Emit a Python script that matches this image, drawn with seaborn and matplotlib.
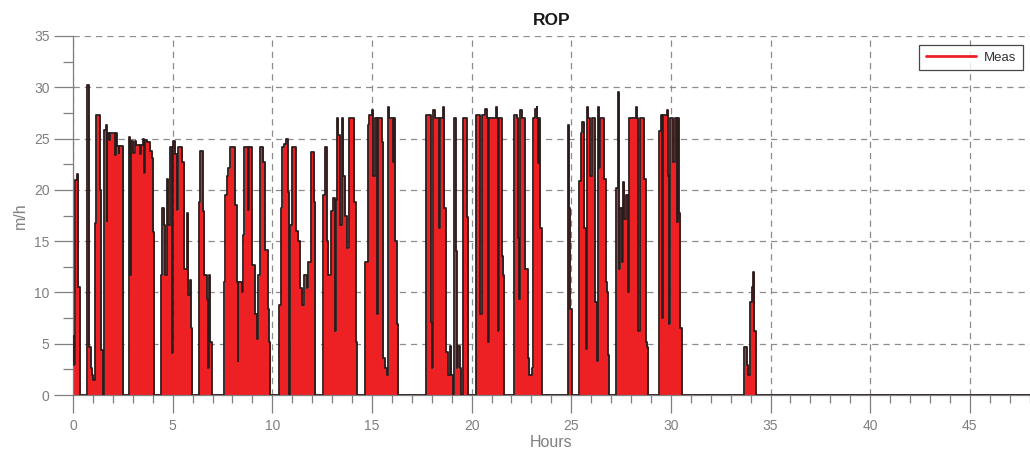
import numpy as np
import pandas as pd
import matplotlib
matplotlib.use("Agg")
import matplotlib.pyplot as plt
from matplotlib.lines import Line2D
from matplotlib.ticker import MultipleLocator
import seaborn as sns

# ROP step signal: (hour where a step starts, value in m/h)
hours = [
    0.00, 0.03, 0.12, 0.20, 0.27, 0.35,
    0.72, 0.78, 0.80, 0.88, 0.96, 1.02,
    1.08, 1.15, 1.35, 1.40, 1.50,
    1.56, 1.64, 1.69, 1.72, 1.80, 1.86, 2.11, 2.14, 2.19, 2.30, 2.33, 2.53,
    2.83, 2.86, 2.89, 3.03, 3.11, 3.18, 3.36, 3.40, 3.53, 3.56, 3.61, 3.70, 3.86, 3.98, 4.03, 4.08,
    4.42, 4.48, 4.57, 4.62, 4.70, 4.78, 4.87, 4.95, 4.98, 5.03, 5.12, 5.20, 5.29, 5.49, 5.59, 5.70,
    5.79, 5.87, 5.92, 5.99,
    6.32, 6.37, 6.51, 6.59, 6.71, 6.76, 6.82, 6.87, 6.96,
    7.60, 7.65, 7.72, 7.79, 7.88, 8.13, 8.21, 8.26, 8.30, 8.46, 8.55, 8.60, 8.80, 8.84, 8.96, 9.13,
    9.22, 9.30, 9.38, 9.55, 9.63, 9.77, 9.82, 9.90,
    10.34, 10.43, 10.50, 10.60, 10.69, 10.77, 10.84, 10.89, 10.97, 11.17, 11.31, 11.39, 11.51, 11.61,
    11.72, 11.81, 11.94, 12.11, 12.16,
    12.56, 12.64, 12.73, 12.81, 12.94, 13.06, 13.15, 13.20, 13.23, 13.31, 13.40, 13.48, 13.56, 13.65,
    13.73, 13.85, 14.12, 14.18, 14.23,
    14.65, 14.79, 14.87, 14.99, 15.07, 15.15, 15.24, 15.29, 15.49, 15.57, 15.65, 15.74, 15.82, 15.86,
    16.07, 16.10, 16.16, 16.24, 16.32,
    17.70, 17.95, 18.00, 18.08, 18.16, 18.38, 18.43, 18.58, 18.63, 18.71, 18.80, 18.91, 18.99, 19.08,
    19.13, 19.20, 19.25, 19.34, 19.40, 19.47, 19.55, 19.75, 19.84,
    20.20, 20.42, 20.50, 20.67, 20.76, 20.84, 20.89, 21.22, 21.27, 21.34, 21.39, 21.51, 21.59, 21.64,
    22.13, 22.26, 22.35, 22.38, 22.43, 22.51, 22.68, 22.81, 22.90, 23.01, 23.10, 23.18, 23.26, 23.30,
    23.35, 23.40, 23.43, 23.51,
    24.82, 24.89, 24.94, 25.02,
    25.41, 25.47, 25.56, 25.66, 25.72, 25.79, 25.86, 25.94, 26.03, 26.19, 26.27, 26.33, 26.39, 26.44,
    26.66, 26.73, 26.78, 26.83, 26.89,
    27.25, 27.33, 27.40, 27.47, 27.53, 27.62, 27.67, 27.75, 27.83, 27.90, 28.25, 28.30, 28.37, 28.43,
    28.67, 28.73, 28.80, 28.87,
    29.42, 29.49, 29.54, 29.59, 29.79, 29.87, 29.92, 29.97, 30.12, 30.20, 30.29, 30.34, 30.40, 30.47,
    30.54,
    33.68, 33.80, 33.89, 33.97, 34.05, 34.14, 34.19, 34.27,
    48.10,
]

rop = [
    5.8, 2.9, 21.0, 21.5, 10.5, 0,
    30.2, 27.3, 4.7, 2.6, 2.0, 1.5,
    16.8, 27.3, 20.0, 4.4, 0,
    25.8, 26.3, 17.0, 25.5, 24.9, 25.5, 23.4, 25.5, 24.3, 23.6, 24.3, 0,
    25.2, 11.7, 24.8, 23.6, 24.8, 24.4, 23.5, 24.4, 25.0, 21.6, 24.9, 24.7, 23.8, 23.1, 15.9, 0,
    11.7, 18.2, 16.6, 11.7, 21.1, 16.6, 24.2, 10.4, 4.1, 24.8, 23.5, 18.0, 24.2, 22.7, 12.3, 17.7,
    9.8, 11.2, 6.5, 0,
    18.8, 23.8, 17.9, 11.7, 9.4, 2.6, 11.7, 5.2, 0,
    11.0, 19.5, 21.4, 22.1, 24.2, 18.5, 11.0, 3.3, 11.0, 10.0, 15.6, 24.2, 18.0, 24.2, 12.7, 7.9,
    5.5, 11.7, 24.2, 22.7, 14.1, 8.4, 5.2, 0,
    8.8, 18.2, 24.2, 24.5, 25.0, 19.8, 0, 16.6, 24.2, 16.0, 15.0, 10.4, 8.8, 11.7,
    10.4, 13.0, 23.7, 18.8, 0,
    19.5, 24.2, 15.0, 11.7, 17.9, 19.2, 6.2, 19.0, 27.0, 25.3, 16.6, 27.0, 21.4, 17.5,
    14.3, 27.0, 18.8, 5.2, 0,
    13.0, 26.3, 27.3, 27.8, 21.4, 27.0, 7.9, 27.0, 24.7, 3.6, 2.6, 2.0, 28.1, 27.0,
    22.7, 27.0, 15.0, 6.9, 0,
    27.3, 7.1, 2.6, 27.8, 27.0, 16.3, 27.0, 28.1, 18.2, 4.2, 2.0, 4.8, 2.0, 0,
    27.0, 14.0, 2.6, 4.8, 2.6, 0, 27.0, 17.4, 0,
    27.3, 7.9, 27.3, 27.9, 27.0, 5.2, 27.0, 28.1, 27.0, 6.2, 27.0, 13.6, 11.7, 0,
    27.3, 27.0, 15.3, 9.4, 27.8, 27.0, 12.3, 3.6, 2.0, 2.6, 27.0, 27.9, 28.1, 27.0,
    22.6, 27.0, 16.3, 0,
    26.3, 18.2, 8.4, 0,
    20.9, 25.5, 26.6, 16.3, 4.5, 28.1, 27.0, 21.4, 27.0, 9.1, 3.3, 28.1, 22.1, 27.0,
    21.1, 11.0, 10.0, 3.9, 0,
    20.2, 29.5, 12.3, 18.2, 13.0, 20.8, 17.2, 19.5, 10.0, 27.0, 28.1, 27.0, 6.2, 27.0,
    21.1, 5.2, 4.7, 0,
    25.7, 27.3, 7.5, 27.3, 27.8, 21.4, 6.9, 27.0, 22.7, 27.0, 16.9, 27.0, 17.7, 6.5,
    0,
    4.7, 2.9, 2.0, 9.1, 10.5, 12.0, 6.2, 0,
    0,
]

df = pd.DataFrame({"Hours": hours, "ROP": rop})

sns.set_style("white")
plt.rcParams["font.family"] = ["Liberation Sans", "DejaVu Sans"]

grey = "#7f7f7f"
red = "#ed2024"

fig = plt.figure(figsize=(10.30, 4.61), dpi=100)
ax = fig.add_axes([0.0709, 0.143, 0.9291, 0.779])

ax.fill_between(df["Hours"], df["ROP"], step="post", color=red, lw=0, zorder=2)
sns.lineplot(data=df, x="Hours", y="ROP", ax=ax, color="#2a1c1c", lw=1.3,
             drawstyle="steps-post", estimator=None, sort=False, legend=False, zorder=3)

ax.set_xlim(0, 48.02)
ax.set_ylim(0, 35)
ax.xaxis.set_major_locator(MultipleLocator(5))
ax.xaxis.set_minor_locator(MultipleLocator(1))
ax.yaxis.set_major_locator(MultipleLocator(5))
ax.yaxis.set_minor_locator(MultipleLocator(2.5))

ax.grid(True, which="major", color="#8c8c8c", ls=(0, (5, 4)), lw=0.9)
ax.set_axisbelow(True)

for side in ["top", "right"]:
    ax.spines[side].set_visible(False)
for side in ["left", "bottom"]:
    ax.spines[side].set_color(grey)
    ax.spines[side].set_linewidth(0.9)

ax.tick_params(which="both", bottom=True, left=True, top=False, right=False)
ax.tick_params(which="major", direction="out", length=14, width=0.9, color=grey,
               labelcolor=grey, labelsize=10, pad=3)
ax.tick_params(which="minor", direction="out", length=7, width=0.9, color=grey)
ax.tick_params(axis="x", which="major", length=13, pad=4)
ax.tick_params(axis="x", which="minor", length=6)

ax.set_title("ROP", fontsize=12.5, fontweight="bold", color="#1a1a1a", pad=8)
ax.set_xlabel("Hours", fontsize=11.5, color=grey, labelpad=2)
ax.set_ylabel("m/h", fontsize=11.5, color=grey, labelpad=4)

handle = Line2D([0], [0], color=red, lw=2)
leg = ax.legend([handle], ["Meas"], loc="upper right", bbox_to_anchor=(0.9927, 0.975),
                borderaxespad=0, fancybox=False, frameon=True, fontsize=9.5,
                handlelength=3.8, borderpad=0.5, handletextpad=0.6)
leg.get_frame().set_edgecolor("#1a1a1a")
leg.get_frame().set_linewidth(0.9)
for t in leg.get_texts():
    t.set_color("#333333")

fig.savefig("out.png", dpi=100)
